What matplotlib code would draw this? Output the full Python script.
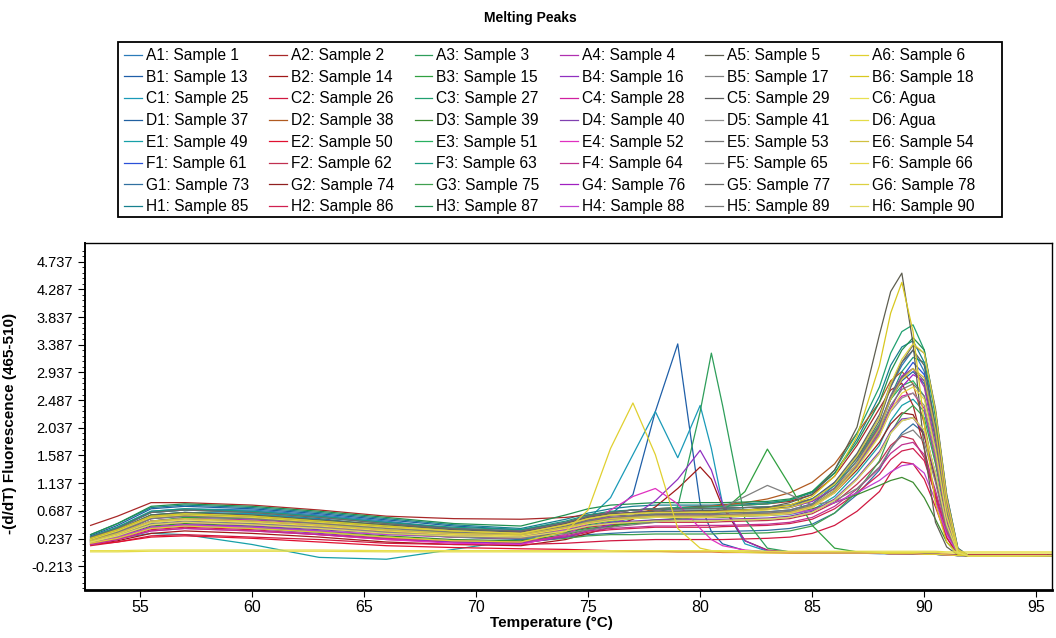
import matplotlib
matplotlib.use("Agg")
from matplotlib import pyplot as plt
from matplotlib.patches import Rectangle
from matplotlib.ticker import FixedLocator
import numpy as np

plt.rcParams["font.family"] = ["Liberation Sans", "DejaVu Sans"]

temps = [52.8, 54, 55.5, 57, 60, 63, 66, 69, 72, 74, 75, 76, 77, 78, 79, 80, 80.5,
         81, 82, 83, 84, 85, 86, 87, 88, 88.5, 89, 89.5, 90, 90.5, 91, 91.5, 92, 96]

rows = ["A", "B", "C", "D", "E", "F", "G", "H"]

# sample names, one list per plate column (rows A..H)
names_col1 = ["Sample 1", "Sample 13", "Sample 25", "Sample 37", "Sample 49", "Sample 61", "Sample 73", "Sample 85"]
names_col2 = ["Sample 2", "Sample 14", "Sample 26", "Sample 38", "Sample 50", "Sample 62", "Sample 74", "Sample 86"]
names_col3 = ["Sample 3", "Sample 15", "Sample 27", "Sample 39", "Sample 51", "Sample 63", "Sample 75", "Sample 87"]
names_col4 = ["Sample 4", "Sample 16", "Sample 28", "Sample 40", "Sample 52", "Sample 64", "Sample 76", "Sample 88"]
names_col5 = ["Sample 5", "Sample 17", "Sample 29", "Sample 41", "Sample 53", "Sample 65", "Sample 77", "Sample 89"]
names_col6 = ["Sample 6", "Sample 18", "Agua", "Agua", "Sample 54", "Sample 66", "Sample 78", "Sample 90"]

# -(d/dT) fluorescence, one list of curves per plate column (rows A..H)
col1 = [
    [0.26, 0.42, 0.68, 0.72, 0.70, 0.62, 0.52, 0.40, 0.34, 0.42, 0.50, 0.56, 0.60, 0.62, 0.64, 0.65, 0.65, 0.66, 0.66, 0.67, 0.70, 0.80, 1.10, 1.60, 2.20, 2.70, 3.05, 3.30, 2.95, 1.90, 0.65, 0.02, -0.05, -0.04],
    [0.20, 0.34, 0.60, 0.66, 0.64, 0.56, 0.44, 0.32, 0.26, 0.36, 0.48, 0.62, 0.95, 2.30, 3.40, 0.80, 0.35, 0.15, 0.04, 0.02, 0.01, 0.00, 0.00, 0.00, -0.01, -0.01, -0.01, -0.02, -0.02, -0.02, -0.03, -0.04, -0.04, -0.04],
    [0.22, 0.36, 0.62, 0.66, 0.64, 0.55, 0.42, 0.30, 0.24, 0.38, 0.55, 0.90, 1.60, 2.30, 1.55, 2.40, 1.70, 0.80, 0.15, 0.03, 0.01, 0.00, 0.00, 0.00, 0.00, -0.01, -0.01, -0.01, -0.02, -0.02, -0.03, -0.04, -0.04, -0.04],
    [0.28, 0.45, 0.72, 0.76, 0.72, 0.64, 0.54, 0.44, 0.38, 0.50, 0.60, 0.66, 0.70, 0.72, 0.72, 0.73, 0.73, 0.73, 0.74, 0.75, 0.78, 0.88, 1.15, 1.55, 2.05, 2.50, 2.80, 2.95, 2.75, 1.85, 0.70, 0.04, -0.04, -0.04],
    [0.18, 0.24, 0.32, 0.30, 0.14, -0.07, -0.10, 0.06, 0.22, 0.34, 0.42, 0.50, 0.56, 0.58, 0.60, 0.60, 0.60, 0.60, 0.60, 0.61, 0.63, 0.70, 0.92, 1.30, 1.75, 2.15, 2.40, 2.50, 2.30, 1.50, 0.55, 0.00, -0.05, -0.04],
    [0.24, 0.40, 0.66, 0.70, 0.68, 0.60, 0.50, 0.40, 0.36, 0.45, 0.52, 0.56, 0.58, 0.60, 0.60, 0.61, 0.61, 0.62, 0.62, 0.63, 0.66, 0.76, 1.02, 1.45, 2.00, 2.50, 2.85, 3.10, 2.90, 1.95, 0.70, 0.03, -0.05, -0.04],
    [0.16, 0.28, 0.50, 0.56, 0.52, 0.44, 0.34, 0.26, 0.22, 0.26, 0.30, 0.32, 0.34, 0.35, 0.35, 0.35, 0.35, 0.35, 0.36, 0.37, 0.40, 0.47, 0.65, 0.95, 1.35, 1.70, 1.95, 2.10, 1.95, 1.30, 0.45, 0.00, -0.05, -0.04],
    [0.30, 0.48, 0.74, 0.78, 0.74, 0.66, 0.56, 0.46, 0.40, 0.55, 0.65, 0.72, 0.76, 0.78, 0.78, 0.78, 0.78, 0.79, 0.80, 0.82, 0.86, 0.98, 1.30, 1.85, 2.55, 3.05, 3.35, 3.45, 3.10, 2.05, 0.75, 0.04, -0.05, -0.04],
]
col2 = [
    [0.45, 0.60, 0.82, 0.82, 0.78, 0.70, 0.60, 0.56, 0.55, 0.58, 0.62, 0.66, 0.70, 0.72, 0.74, 0.76, 0.76, 0.76, 0.78, 0.80, 0.84, 0.95, 1.25, 1.75, 2.35, 2.65, 2.76, 2.40, 1.70, 0.90, 0.25, -0.02, -0.05, -0.04],
    [0.14, 0.20, 0.32, 0.36, 0.32, 0.26, 0.18, 0.14, 0.12, 0.22, 0.32, 0.42, 0.55, 0.75, 1.05, 1.40, 1.20, 0.75, 0.20, 0.05, 0.02, 0.01, 0.01, 0.00, 0.00, 0.00, -0.01, -0.01, -0.01, -0.02, -0.02, -0.03, -0.03, -0.03],
    [0.12, 0.18, 0.28, 0.30, 0.26, 0.22, 0.16, 0.14, 0.14, 0.16, 0.18, 0.20, 0.21, 0.22, 0.22, 0.22, 0.22, 0.22, 0.23, 0.24, 0.26, 0.32, 0.45, 0.68, 1.00, 1.30, 1.48, 1.45, 1.20, 0.75, 0.25, -0.02, -0.05, -0.04],
    [0.22, 0.36, 0.58, 0.62, 0.58, 0.50, 0.42, 0.34, 0.30, 0.45, 0.55, 0.62, 0.66, 0.70, 0.72, 0.74, 0.76, 0.78, 0.82, 0.88, 0.98, 1.15, 1.45, 1.95, 2.45, 2.80, 2.95, 2.75, 2.10, 1.20, 0.35, -0.01, -0.05, -0.04],
    [0.14, 0.18, 0.26, 0.28, 0.24, 0.18, 0.12, 0.09, 0.07, 0.06, 0.05, 0.04, 0.03, 0.03, 0.02, 0.02, 0.02, 0.01, 0.01, 0.01, 0.00, 0.00, 0.00, 0.00, 0.00, -0.01, -0.01, -0.01, -0.02, -0.02, -0.02, -0.03, -0.03, -0.03],
    [0.18, 0.28, 0.46, 0.50, 0.46, 0.40, 0.32, 0.26, 0.24, 0.34, 0.42, 0.46, 0.48, 0.50, 0.50, 0.50, 0.50, 0.51, 0.52, 0.53, 0.56, 0.64, 0.82, 1.12, 1.48, 1.75, 1.90, 1.85, 1.55, 0.95, 0.35, 0.00, -0.05, -0.04],
    [0.20, 0.32, 0.52, 0.56, 0.52, 0.44, 0.36, 0.30, 0.28, 0.40, 0.48, 0.54, 0.58, 0.60, 0.60, 0.61, 0.61, 0.62, 0.63, 0.64, 0.67, 0.76, 0.98, 1.35, 1.80, 2.10, 2.28, 2.25, 1.90, 1.20, 0.42, 0.00, -0.05, -0.04],
    [0.14, 0.22, 0.38, 0.42, 0.38, 0.30, 0.22, 0.18, 0.16, 0.26, 0.34, 0.38, 0.40, 0.42, 0.42, 0.42, 0.42, 0.43, 0.44, 0.45, 0.48, 0.55, 0.72, 0.98, 1.28, 1.52, 1.66, 1.70, 1.50, 0.95, 0.35, 0.00, -0.05, -0.04],
]
col3 = [
    [0.20, 0.32, 0.56, 0.62, 0.60, 0.52, 0.42, 0.32, 0.28, 0.38, 0.46, 0.52, 0.58, 0.66, 0.75, 2.30, 3.25, 2.40, 0.55, 0.08, 0.02, 0.01, 0.00, 0.00, 0.00, -0.01, -0.01, -0.01, -0.02, -0.02, -0.03, -0.04, -0.04, -0.04],
    [0.18, 0.30, 0.52, 0.58, 0.56, 0.48, 0.38, 0.30, 0.26, 0.34, 0.40, 0.44, 0.48, 0.52, 0.56, 0.60, 0.64, 0.68, 1.00, 1.69, 1.10, 0.45, 0.08, 0.02, 0.01, 0.00, 0.00, -0.01, -0.01, -0.02, -0.03, -0.04, -0.04, -0.04],
    [0.26, 0.42, 0.66, 0.70, 0.66, 0.58, 0.48, 0.38, 0.34, 0.48, 0.58, 0.66, 0.70, 0.72, 0.74, 0.75, 0.75, 0.76, 0.78, 0.80, 0.86, 1.00, 1.35, 1.95, 2.70, 3.25, 3.60, 3.71, 3.30, 2.20, 0.80, 0.05, -0.05, -0.04],
    [0.16, 0.26, 0.44, 0.48, 0.44, 0.36, 0.28, 0.22, 0.20, 0.30, 0.38, 0.44, 0.50, 0.54, 0.56, 0.58, 0.58, 0.58, 0.60, 0.62, 0.66, 0.72, 0.82, 0.95, 1.10, 1.18, 1.23, 1.15, 0.90, 0.55, 0.18, -0.02, -0.05, -0.04],
    [0.24, 0.38, 0.62, 0.66, 0.62, 0.54, 0.46, 0.38, 0.34, 0.46, 0.56, 0.62, 0.66, 0.68, 0.68, 0.69, 0.69, 0.70, 0.70, 0.71, 0.74, 0.85, 1.12, 1.55, 2.10, 2.50, 2.72, 2.80, 2.55, 1.70, 0.62, 0.02, -0.05, -0.04],
    [0.26, 0.42, 0.68, 0.72, 0.68, 0.60, 0.50, 0.42, 0.38, 0.52, 0.62, 0.68, 0.70, 0.72, 0.72, 0.72, 0.72, 0.73, 0.74, 0.75, 0.78, 0.88, 1.10, 1.50, 2.05, 2.55, 2.95, 3.18, 3.10, 2.30, 0.95, 0.08, -0.05, -0.04],
    [0.14, 0.24, 0.42, 0.46, 0.42, 0.34, 0.26, 0.20, 0.18, 0.24, 0.28, 0.30, 0.30, 0.31, 0.31, 0.31, 0.31, 0.32, 0.32, 0.33, 0.36, 0.44, 0.65, 1.00, 1.50, 1.95, 2.25, 2.40, 2.20, 1.45, 0.52, 0.00, -0.05, -0.04],
    [0.30, 0.48, 0.76, 0.80, 0.76, 0.68, 0.58, 0.48, 0.44, 0.62, 0.72, 0.78, 0.80, 0.82, 0.82, 0.82, 0.82, 0.82, 0.83, 0.84, 0.88, 1.00, 1.30, 1.80, 2.45, 2.95, 3.30, 3.50, 3.30, 2.30, 0.90, 0.06, -0.05, -0.04],
]
col4 = [
    [0.20, 0.32, 0.52, 0.56, 0.54, 0.48, 0.42, 0.36, 0.34, 0.46, 0.54, 0.58, 0.60, 0.61, 0.62, 0.62, 0.62, 0.62, 0.62, 0.62, 0.64, 0.74, 1.00, 1.45, 2.05, 2.55, 2.88, 3.00, 2.70, 1.75, 0.62, 0.02, -0.05, -0.04],
    [0.16, 0.24, 0.40, 0.44, 0.40, 0.32, 0.24, 0.18, 0.16, 0.26, 0.36, 0.46, 0.60, 0.85, 1.20, 1.67, 1.35, 0.80, 0.20, 0.04, 0.02, 0.01, 0.00, 0.00, 0.00, -0.01, -0.01, -0.01, -0.02, -0.02, -0.03, -0.04, -0.04, -0.04],
    [0.18, 0.28, 0.46, 0.50, 0.48, 0.42, 0.36, 0.30, 0.28, 0.40, 0.50, 0.56, 0.58, 0.60, 0.60, 0.60, 0.60, 0.61, 0.62, 0.63, 0.66, 0.76, 1.00, 1.42, 1.95, 2.35, 2.55, 2.60, 2.35, 1.55, 0.55, 0.01, -0.05, -0.04],
    [0.16, 0.26, 0.42, 0.46, 0.44, 0.38, 0.32, 0.28, 0.26, 0.36, 0.44, 0.50, 0.52, 0.54, 0.55, 0.55, 0.55, 0.55, 0.56, 0.57, 0.60, 0.68, 0.88, 1.22, 1.65, 1.98, 2.18, 2.20, 1.95, 1.25, 0.45, 0.00, -0.05, -0.04],
    [0.14, 0.22, 0.36, 0.40, 0.36, 0.30, 0.22, 0.16, 0.14, 0.30, 0.48, 0.70, 0.92, 1.05, 0.80, 0.40, 0.22, 0.12, 0.05, 0.02, 0.01, 0.00, 0.00, 0.00, 0.00, -0.01, -0.01, -0.01, -0.02, -0.02, -0.03, -0.04, -0.04, -0.04],
    [0.14, 0.22, 0.36, 0.40, 0.36, 0.30, 0.24, 0.20, 0.18, 0.28, 0.36, 0.40, 0.42, 0.44, 0.44, 0.45, 0.45, 0.45, 0.46, 0.47, 0.50, 0.58, 0.76, 1.04, 1.38, 1.62, 1.76, 1.80, 1.60, 1.02, 0.36, 0.00, -0.05, -0.04],
    [0.22, 0.34, 0.56, 0.60, 0.58, 0.50, 0.42, 0.36, 0.34, 0.48, 0.58, 0.64, 0.66, 0.68, 0.68, 0.68, 0.68, 0.69, 0.70, 0.71, 0.74, 0.84, 1.05, 1.42, 1.92, 2.35, 2.70, 2.90, 2.80, 2.05, 0.85, 0.06, -0.05, -0.04],
    [0.16, 0.26, 0.42, 0.46, 0.42, 0.36, 0.30, 0.26, 0.24, 0.38, 0.48, 0.54, 0.58, 0.60, 0.60, 0.60, 0.60, 0.60, 0.61, 0.62, 0.64, 0.70, 0.82, 0.98, 1.18, 1.32, 1.42, 1.45, 1.30, 0.85, 0.30, 0.00, -0.05, -0.04],
]
col5 = [
    [0.22, 0.36, 0.58, 0.62, 0.58, 0.50, 0.42, 0.34, 0.30, 0.42, 0.50, 0.56, 0.60, 0.62, 0.64, 0.66, 0.67, 0.68, 0.70, 0.74, 0.82, 0.95, 1.35, 2.05, 3.55, 4.25, 4.55, 3.40, 1.70, 0.50, 0.10, -0.03, -0.05, -0.04],
    [0.18, 0.28, 0.46, 0.50, 0.46, 0.40, 0.32, 0.26, 0.24, 0.32, 0.38, 0.42, 0.46, 0.50, 0.55, 0.60, 0.66, 0.74, 0.92, 1.10, 0.95, 0.78, 0.85, 1.05, 1.40, 1.70, 1.92, 2.00, 1.80, 1.15, 0.40, 0.00, -0.05, -0.04],
    [0.24, 0.38, 0.62, 0.66, 0.62, 0.54, 0.46, 0.38, 0.34, 0.48, 0.58, 0.64, 0.66, 0.68, 0.68, 0.69, 0.69, 0.70, 0.70, 0.72, 0.75, 0.86, 1.15, 1.62, 2.25, 2.75, 3.10, 3.30, 3.05, 2.05, 0.72, 0.03, -0.05, -0.04],
    [0.20, 0.32, 0.52, 0.56, 0.52, 0.46, 0.38, 0.32, 0.30, 0.42, 0.50, 0.55, 0.58, 0.60, 0.60, 0.60, 0.60, 0.61, 0.62, 0.63, 0.66, 0.76, 1.00, 1.40, 1.92, 2.30, 2.52, 2.60, 2.40, 1.60, 0.58, 0.01, -0.05, -0.04],
    [0.22, 0.36, 0.58, 0.62, 0.58, 0.50, 0.42, 0.36, 0.32, 0.44, 0.54, 0.60, 0.62, 0.64, 0.64, 0.64, 0.64, 0.65, 0.66, 0.67, 0.70, 0.80, 1.06, 1.50, 2.08, 2.55, 2.85, 3.00, 2.80, 1.90, 0.68, 0.02, -0.05, -0.04],
    [0.18, 0.28, 0.48, 0.52, 0.48, 0.42, 0.34, 0.28, 0.26, 0.36, 0.44, 0.48, 0.50, 0.52, 0.52, 0.52, 0.52, 0.53, 0.54, 0.55, 0.58, 0.66, 0.86, 1.20, 1.62, 1.95, 2.15, 2.20, 2.00, 1.30, 0.46, 0.00, -0.05, -0.04],
    [0.26, 0.40, 0.66, 0.70, 0.66, 0.58, 0.48, 0.40, 0.36, 0.50, 0.60, 0.66, 0.70, 0.72, 0.72, 0.72, 0.72, 0.73, 0.74, 0.75, 0.78, 0.88, 1.12, 1.55, 2.15, 2.70, 3.10, 3.38, 3.25, 2.35, 0.95, 0.08, -0.05, -0.04],
    [0.20, 0.34, 0.56, 0.60, 0.56, 0.48, 0.40, 0.34, 0.30, 0.42, 0.52, 0.57, 0.60, 0.62, 0.62, 0.62, 0.62, 0.63, 0.64, 0.65, 0.68, 0.78, 1.02, 1.44, 1.98, 2.40, 2.66, 2.75, 2.55, 1.70, 0.62, 0.02, -0.05, -0.04],
]
col6 = [
    [0.16, 0.24, 0.40, 0.44, 0.40, 0.34, 0.26, 0.20, 0.18, 0.35, 0.70, 1.70, 2.44, 1.60, 0.40, 0.08, 0.04, 0.02, 0.01, 0.00, 0.00, 0.00, 0.00, 0.00, 0.00, -0.01, -0.01, -0.01, -0.02, -0.02, -0.03, -0.04, -0.04, -0.04],
    [0.24, 0.38, 0.60, 0.64, 0.60, 0.52, 0.44, 0.36, 0.32, 0.46, 0.56, 0.62, 0.64, 0.66, 0.66, 0.67, 0.67, 0.68, 0.70, 0.72, 0.78, 0.92, 1.25, 1.90, 3.05, 3.90, 4.40, 3.60, 2.10, 0.80, 0.18, -0.02, -0.05, -0.04],
    [0.04, 0.04, 0.05, 0.05, 0.05, 0.05, 0.04, 0.04, 0.04, 0.04, 0.04, 0.04, 0.04, 0.04, 0.04, 0.04, 0.04, 0.04, 0.04, 0.03, 0.03, 0.03, 0.03, 0.03, 0.03, 0.03, 0.03, 0.03, 0.03, 0.03, 0.02, 0.02, 0.02, 0.02],
    [0.02, 0.02, 0.03, 0.03, 0.03, 0.03, 0.02, 0.02, 0.02, 0.02, 0.02, 0.02, 0.02, 0.02, 0.02, 0.02, 0.02, 0.02, 0.02, 0.02, 0.02, 0.02, 0.02, 0.02, 0.01, 0.01, 0.01, 0.01, 0.01, 0.01, 0.00, 0.00, 0.00, 0.00],
    [0.20, 0.32, 0.52, 0.56, 0.52, 0.46, 0.38, 0.32, 0.30, 0.42, 0.50, 0.56, 0.58, 0.60, 0.60, 0.60, 0.60, 0.61, 0.62, 0.63, 0.66, 0.76, 1.02, 1.45, 2.02, 2.50, 2.82, 3.00, 2.85, 2.00, 0.75, 0.04, -0.05, -0.04],
    [0.18, 0.30, 0.50, 0.54, 0.50, 0.44, 0.36, 0.30, 0.28, 0.40, 0.48, 0.53, 0.56, 0.58, 0.58, 0.58, 0.58, 0.59, 0.60, 0.61, 0.64, 0.74, 0.98, 1.38, 1.90, 2.32, 2.60, 2.70, 2.50, 1.68, 0.60, 0.02, -0.05, -0.04],
    [0.22, 0.36, 0.58, 0.62, 0.58, 0.50, 0.42, 0.36, 0.32, 0.46, 0.56, 0.62, 0.64, 0.66, 0.66, 0.66, 0.66, 0.67, 0.68, 0.70, 0.74, 0.86, 1.12, 1.58, 2.20, 2.75, 3.15, 3.40, 3.25, 2.30, 0.90, 0.06, -0.05, -0.04],
    [0.18, 0.28, 0.46, 0.50, 0.46, 0.40, 0.32, 0.28, 0.26, 0.36, 0.44, 0.48, 0.50, 0.52, 0.52, 0.52, 0.52, 0.53, 0.54, 0.55, 0.58, 0.66, 0.86, 1.20, 1.62, 1.95, 2.15, 2.20, 2.00, 1.30, 0.46, 0.00, -0.05, -0.04],
]

# line colours per plate column, one shade per row
colors_col1 = ["#2b7bb9", "#1f5fa8", "#1a9ab8", "#2060a0", "#17a0a8", "#2a50d8", "#3170a0", "#17808f"]
colors_col2 = ["#a82828", "#a01818", "#d01840", "#b05a20", "#e01030", "#c03050", "#902020", "#d02050"]
colors_col3 = ["#2e9e5a", "#30a040", "#20a070", "#3c8c30", "#28b060", "#1a9a80", "#40a050", "#209050"]
colors_col4 = ["#b030b0", "#9030c0", "#d020a0", "#8040b0", "#e030c0", "#c03090", "#a020c0", "#c040d0"]
colors_col5 = ["#5e5e50", "#808080", "#606060", "#909090", "#757575", "#858585", "#6a6a6a", "#7a7a7a"]
colors_col6 = ["#e0d030", "#d8c820", "#e8e050", "#e4dc48", "#d0c040", "#e6d84a", "#dcd040", "#e0d860"]

columns = [
    (1, col1, names_col1, colors_col1),
    (2, col2, names_col2, colors_col2),
    (3, col3, names_col3, colors_col3),
    (4, col4, names_col4, colors_col4),
    (5, col5, names_col5, colors_col5),
    (6, col6, names_col6, colors_col6),
]

narrow = ["Liberation Sans Narrow", "Liberation Sans"]

fig = plt.figure(figsize=(10.56, 6.38), dpi=100)
ax = fig.add_axes([85 / 1056, 1 - 590 / 638, (1052 - 85) / 1056, (590 - 243) / 638])

handles = []
labels = []
for num, curves, names, colors in columns:
    for r, vals in enumerate(curves):
        h, = ax.plot(temps, vals, color=colors[r], lw=0.9)
        handles.append(h)
        labels.append(f"{rows[r]}{num}: {names[r]}")

ax.set_xlim(52.55, 95.7)
ax.set_ylim(-0.60, 5.04)

yticks = np.round(np.arange(-0.213, 4.74, 0.45), 3)
ax.yaxis.set_major_locator(FixedLocator(yticks))
ax.yaxis.set_minor_locator(FixedLocator(np.arange(-0.573, 5.0, 0.09)))
ax.set_yticklabels([f"{v:.3f}" for v in yticks], fontsize=10.5)
ax.set_xticks(np.arange(55, 96, 5))
ax.set_xticklabels([str(v) for v in range(55, 96, 5)], family=narrow, fontsize=11.5)

ax.tick_params(axis="both", which="major", direction="out", length=5, width=0.8, colors="black")
ax.tick_params(axis="x", which="major", pad=2)
ax.tick_params(axis="y", which="minor", direction="out", length=2.5, width=0.6)
for side in ["top", "right"]:
    ax.spines[side].set_linewidth(1.0)
ax.spines["left"].set_linewidth(1.4)
ax.spines["bottom"].set_linewidth(2.0)

ax.set_xlabel("Temperature (°C)", fontsize=11, fontweight="bold", family=narrow)
ax.xaxis.set_label_coords((551 - 85) / 967, -0.075)
ax.set_ylabel("-(d/dT) Fluorescence (465-510)", fontsize=11, fontweight="bold")
ax.yaxis.set_label_coords(-0.07, (590 - 423) / 347)

fig.text(530 / 1056, 1 - 18 / 638, "Melting Peaks", ha="center", va="center",
         fontsize=10, fontweight="bold", family=narrow)

# legend entries laid out by plate column, frame drawn separately
leg = fig.legend(handles, labels, ncol=6, loc="upper left",
                 bbox_to_anchor=(118 / 1056, 1 - 42 / 638), borderaxespad=0,
                 fontsize=11.2, frameon=False, handlelength=1.15, handletextpad=0.25,
                 columnspacing=1.3, labelspacing=0.425, borderpad=0.4)
fig.patches.append(Rectangle((118 / 1056, 1 - 217 / 638), (1002 - 118) / 1056, 175 / 638,
                             transform=fig.transFigure, fill=False,
                             edgecolor="black", lw=1.3, zorder=5))

fig.savefig("out.png", dpi=100)
